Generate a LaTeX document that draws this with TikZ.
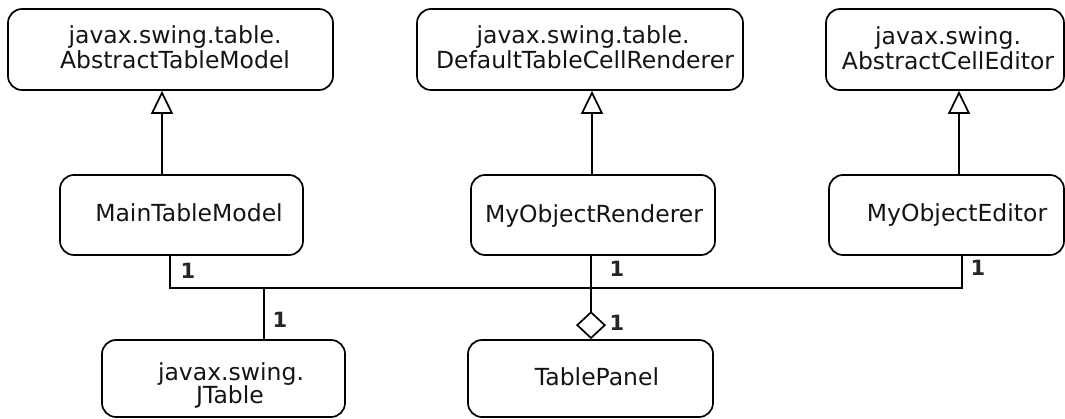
\documentclass[tikz,border=0pt]{standalone}
\usepackage{fontspec}
\setmainfont{DejaVu Sans}
\usetikzlibrary{arrows.meta}
\tikzset{
  cls/.style={draw=black, line width=1.7pt, rounded corners=14pt, inner sep=0pt},
  lbl/.style={anchor=base, inner sep=0pt, text=black!92,
              font=\fontsize{23.5}{25}\selectfont},
  mult/.style={anchor=center, inner sep=0pt, text=black!85,
               font=\bfseries\fontsize{21}{23}\selectfont},
  link/.style={draw=black, line width=1.7pt},
  gen/.style={link, -{Triangle[open, length=23pt, width=22pt]}},
  agg/.style={link, -{Diamond[open, length=28pt, width=30pt]}},
}
\newcommand{\clsbox}[5]{% name, x1, y1, x2, y2
  \node[cls, minimum width={#4-#2}, minimum height={#5-#3}]
    (#1) at ({(#2+#4)/2},{(#3+#5)/2}) {};}
\begin{document}
\begin{tikzpicture}[x=1pt, y=-1pt]
\useasboundingbox (0,0) rectangle (1065,419);

% superclasses
\clsbox{atm}{8}{9}{333}{90}
\node[lbl] (atm1) at (175,44) {javax.swing.table.};
\node[lbl] (atm2) at (175,69) {AbstractTableModel};

\clsbox{dtcr}{417}{9}{743}{90}
\node[lbl] (dtcr1) at (583,44) {javax.swing.table.};
\node[lbl] (dtcr2) at (585,69) {DefaultTableCellRenderer};

\clsbox{ace}{826}{9}{1064}{90}
\node[lbl] (ace1) at (948,45) {javax.swing.};
\node[lbl] (ace2) at (948,70) {AbstractCellEditor};

% subclasses
\clsbox{mtm}{60}{175}{303}{255}
\node[lbl] (mtm1) at (189,222) {MainTableModel};

\clsbox{mor}{471}{175}{715}{255}
\node[lbl] (mor1) at (594,223) {MyObjectRenderer};

\clsbox{moe}{829}{175}{1064}{255}
\node[lbl] (moe1) at (957,222) {MyObjectEditor};

% table classes
\clsbox{jt}{102}{340}{345}{417}
\node[lbl] (jt1) at (231,380) {javax.swing.};
\node[lbl] (jt2) at (230,403) {JTable};

\clsbox{tp}{468}{340}{713}{417}
\node[lbl] (tp1) at (597,385) {TablePanel};

% connector x positions and the shared bus
\coordinate (xatm) at (162,0);
\coordinate (xdtcr) at (592,0);
\coordinate (xace) at (959,0);
\coordinate (xagg) at (591,0);
\coordinate (xjt) at (264,0);
\coordinate (busL) at (170,288);
\coordinate (busR) at (962,288);

% generalizations
\draw[gen] (mtm.north -| xatm) -- (atm.south -| xatm);
\draw[gen] (mor.north -| xdtcr) -- (dtcr.south -| xdtcr);
\draw[gen] (moe.north -| xace) -- (ace.south -| xace);

% associations
\draw[link] (mtm.south -| busL) -- (busL) -- (busR) -- (moe.south -| busR);
\draw[link] (busL -| xjt) -- (jt.north -| xjt);
\draw[agg] (mor.south -| xagg) -- (tp.north -| xagg);

% multiplicities
\node[mult] (m1) at (188,271) {1};
\node[mult] (m2) at (617,269) {1};
\node[mult] (m3) at (978,268) {1};
\node[mult] (m4) at (280,320) {1};
\node[mult] (m5) at (617,323) {1};
\end{tikzpicture}
\end{document}
